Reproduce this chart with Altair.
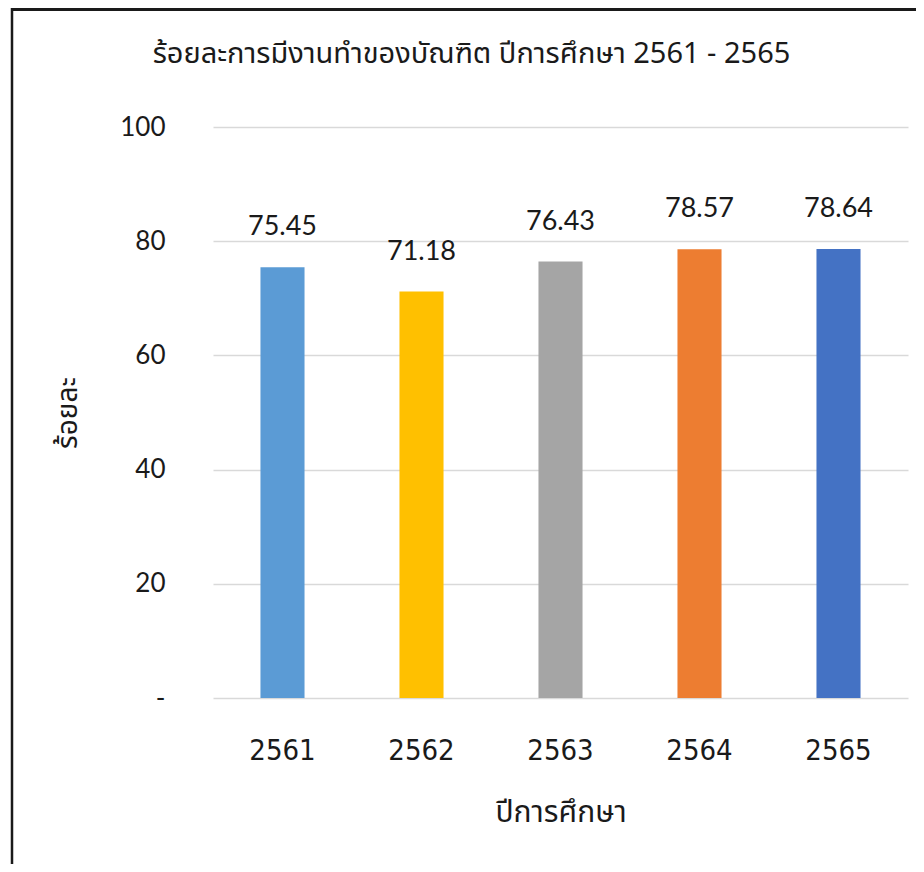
import altair as alt
import pandas as pd

years = ["2561", "2562", "2563", "2564", "2565"]
values = [75.45, 71.18, 76.43, 78.57, 78.64]
colors = ["#5B9BD5", "#FFC000", "#A5A5A5", "#ED7D31", "#4472C4"]
y_ticks = [0, 20, 40, 60, 80, 100]

title_text = ["ร้อยละการมีงานทำของบัณฑิต ปีการศึกษา 2561 - 2565"]
x_title = "ปีการศึกษา"
y_title = "ร้อยละ"

df = pd.DataFrame({"year": years, "value": values})

W, H = 695, 571
PAD_L, PAD_T, PAD_R, PAD_B = 205, 119, 8, 166

thai_font = "Noto Sans Thai, Loma, Garuda, Tlwg Typo, sans-serif"
num_font = "Lato, Noto Sans, sans-serif"
cond_font = "DejaVu Sans Condensed, Liberation Sans, sans-serif"

x_enc = alt.X(
    "year:N",
    sort=years,
    scale=alt.Scale(paddingInner=0.683, paddingOuter=0.3415),
    axis=alt.Axis(
        title=x_title,
        labelFont=cond_font,
        labelFontSize=29,
        labelColor="#1a1a1a",
        labelPadding=38,
        labelAngle=0,
        ticks=False,
        tickSize=0,
        domain=False,
        grid=False,
        titleFont=thai_font,
        titleFontSize=30,
        titleFontWeight="normal",
        titleColor="#1a1a1a",
        titleX=W / 2,
        titleY=114,
        titleAlign="center",
        titleBaseline="middle",
    ),
)

y_enc = alt.Y(
    "value:Q",
    scale=alt.Scale(domain=[0, 100], nice=False),
    axis=alt.Axis(
        title=y_title,
        values=y_ticks,
        labelExpr="datum.value == 0 ? '-' : datum.label",
        labelFont=num_font,
        labelFontSize=26,
        labelColor="#1a1a1a",
        labelPadding=48,
        labelBaseline="middle",
        ticks=False,
        tickSize=0,
        domain=False,
        grid=True,
        gridColor="#d9d9d9",
        gridWidth=1.5,
        titleFont=thai_font,
        titleFontSize=28,
        titleFontWeight="normal",
        titleColor="#1a1a1a",
        titleAngle=-90,
        titleX=-145,
        titleY=H / 2,
        titleAlign="center",
        titleBaseline="middle",
    ),
)

base = alt.Chart(df)

bars = base.mark_bar().encode(
    x=x_enc,
    y=y_enc,
    color=alt.Color("year:N", scale=alt.Scale(domain=years, range=colors), legend=None),
)

labels = base.mark_text(
    dy=-32, baseline="alphabetic", align="center", font=num_font, fontSize=27, color="#1a1a1a"
).encode(
    x=alt.X("year:N", sort=years),
    y=alt.Y("value:Q"),
    text=alt.Text("value:Q", format=".2f"),
)

title_mark = alt.Chart(pd.DataFrame({"t": title_text})).mark_text(
    font=thai_font, fontSize=29, color="#1a1a1a", align="center", baseline="alphabetic"
).encode(
    text="t:N",
    x=alt.value(W / 2 - 89),
    y=alt.value(-64),
)

frame_df = pd.DataFrame({"k": [0]})
frame_top = alt.Chart(frame_df).mark_rule(color="#1a1a1a", strokeWidth=3).encode(
    x=alt.value(-PAD_L + 3), x2=alt.value(W + PAD_R), y=alt.value(-PAD_T + 1.5)
)
frame_left = alt.Chart(frame_df).mark_rule(color="#1a1a1a", strokeWidth=2.5).encode(
    x=alt.value(-PAD_L + 4), y=alt.value(-PAD_T), y2=alt.value(H + PAD_B)
)

chart = (
    alt.layer(bars, labels, title_mark, frame_top, frame_left)
    .properties(
        width=W,
        height=H,
        background="white",
        autosize=alt.AutoSizeParams(type="none"),
        padding={"left": PAD_L, "top": PAD_T, "right": PAD_R, "bottom": PAD_B},
    )
    .configure_view(stroke="transparent", strokeWidth=0)
)

chart.save("out.html", embed_options={"renderer": "svg", "actions": False})
